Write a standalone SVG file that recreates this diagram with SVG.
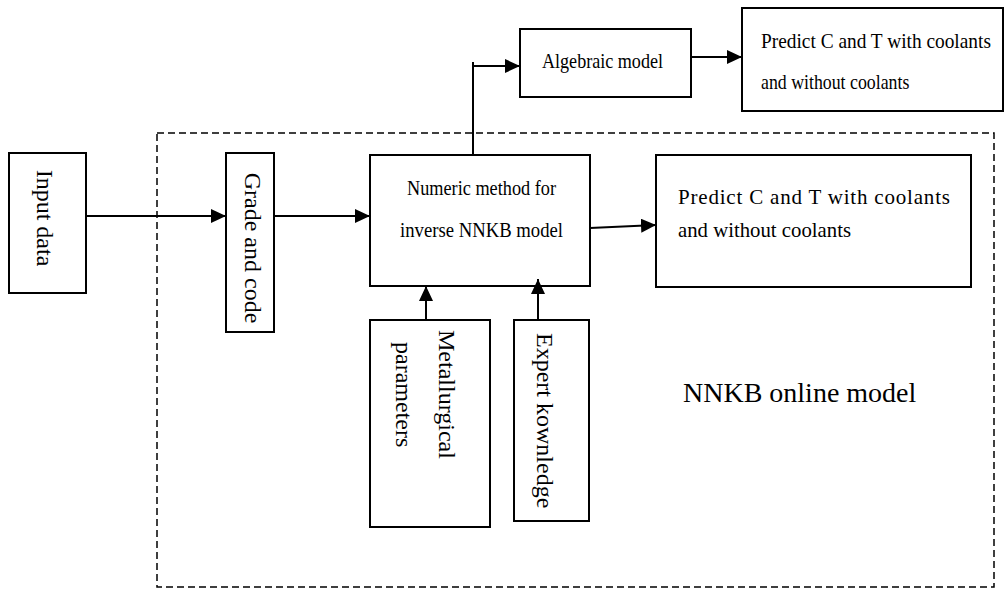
<svg xmlns="http://www.w3.org/2000/svg" width="1007" height="590" viewBox="0 0 1007 590">
<style>
.box{fill:#fff;stroke:#000;stroke-width:2}
.t{font-family:"Liberation Serif","Times New Roman",serif;fill:#000}
.c{stroke:#000;stroke-width:2;fill:none}
</style>
<defs>
<marker id="ah" viewBox="0 0 15 14" refX="15" refY="7" markerWidth="15" markerHeight="14" markerUnits="userSpaceOnUse" orient="auto">
<path d="M0,0 L15,7 L0,14 Z" fill="#000"/>
</marker>
</defs>
<rect width="1007" height="590" fill="#fff"/>
<g id="frame">
<rect x="157" y="133" width="837" height="454" fill="none" stroke="#000" stroke-width="1.5" stroke-dasharray="7 4"/>
<text class="t" x="683" y="402" font-size="28">NNKB online model</text>
</g>
<g id="input">
<rect class="box" x="9" y="153" width="77" height="140"/>
<text class="t" font-size="24" text-anchor="middle" transform="translate(37,218) rotate(90)">Input data</text>
</g>
<g id="grade">
<rect class="box" x="226" y="153" width="48" height="179"/>
<text class="t" font-size="24" text-anchor="middle" transform="translate(245,248) rotate(90)">Grade and code</text>
</g>
<g id="numeric">
<rect class="box" x="370" y="155" width="220" height="131"/>
<text class="t" x="407" y="195" font-size="22" textLength="149" lengthAdjust="spacingAndGlyphs">Numeric method for</text>
<text class="t" x="400" y="237" font-size="22" textLength="163" lengthAdjust="spacingAndGlyphs">inverse NNKB model</text>
</g>
<g id="predict-low">
<rect class="box" x="656" y="155" width="315" height="132"/>
<text class="t" x="678" y="204" font-size="21" textLength="272" lengthAdjust="spacing">Predict C and T with coolants</text>
<text class="t" x="678" y="237" font-size="21" textLength="173" lengthAdjust="spacingAndGlyphs">and without coolants</text>
</g>
<g id="algebraic">
<rect class="box" x="520" y="29" width="171" height="68"/>
<text class="t" x="542" y="68" font-size="22" textLength="121" lengthAdjust="spacingAndGlyphs">Algebraic model</text>
</g>
<g id="predict-top">
<rect class="box" x="742" y="8" width="261" height="103"/>
<text class="t" font-size="22" transform="translate(761,48) scale(0.88,1)">Predict C and T with coolants</text>
<text class="t" font-size="22" transform="translate(761,89) scale(0.81,1)">and without coolants</text>
</g>
<g id="metallurgical">
<rect class="box" x="370" y="320" width="120" height="207"/>
<text class="t" font-size="24" transform="translate(439,330) rotate(90)">Metallurgical</text>
<text class="t" font-size="24" transform="translate(396,342) rotate(90)">parameters</text>
</g>
<g id="expert">
<rect class="box" x="514" y="320" width="75" height="201"/>
<text class="t" font-size="24" transform="translate(537,333) rotate(90)">Expert kownledge</text>
</g>
<g id="connectors">
<line class="c" x1="86" y1="216" x2="226" y2="216" marker-end="url(#ah)"/>
<line class="c" x1="274" y1="216" x2="370" y2="216" marker-end="url(#ah)"/>
<line class="c" x1="590" y1="228" x2="656" y2="225" marker-end="url(#ah)"/>
<polyline class="c" points="473,155 473,62"/>
<line class="c" x1="473" y1="66" x2="520" y2="66" marker-end="url(#ah)"/>
<line class="c" x1="691" y1="57" x2="742" y2="57" marker-end="url(#ah)"/>
<line class="c" x1="426" y1="320" x2="426" y2="286" marker-end="url(#ah)"/>
<line class="c" x1="538" y1="320" x2="538" y2="279" marker-end="url(#ah)"/>
</g>
</svg>
